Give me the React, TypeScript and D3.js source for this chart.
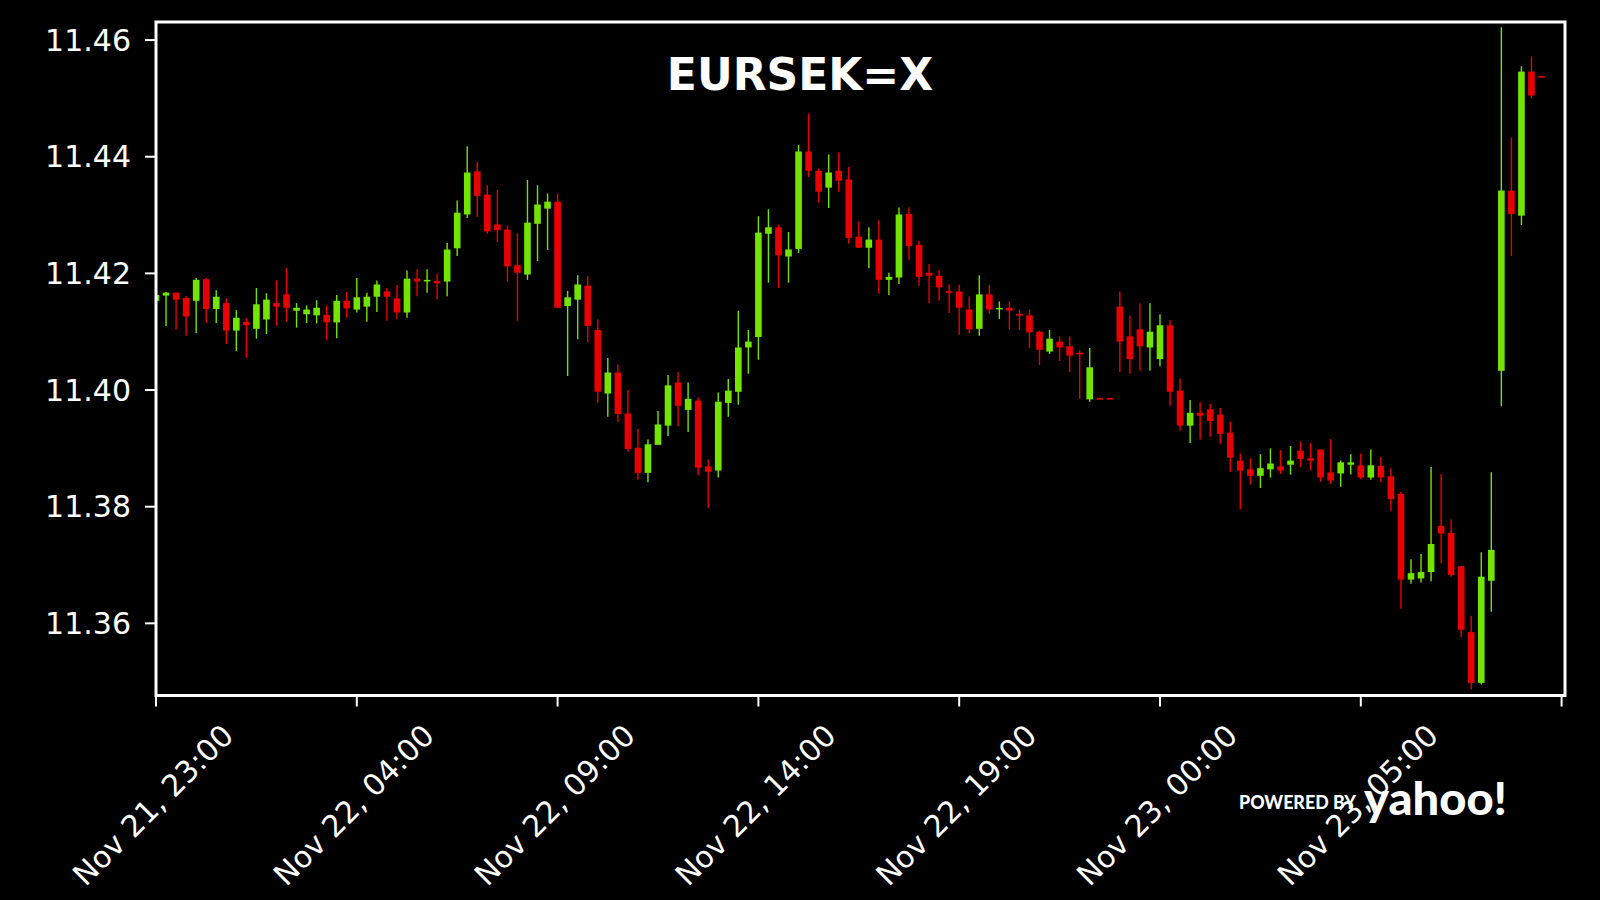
import React from "react";
import * as d3 from "d3";

// ---- data (15-minute candles, EURSEK=X) ----
const startTime = Date.UTC(2023, 10, 21, 23, 0); // Nov 21, 23:00
const intervalMin = 15;

const opens = [
  11.4153, 11.4162, 11.4167, 11.4158, 11.4153, 11.419, 11.4139, 11.4149, 11.4102, 11.4117,
  11.4105, 11.4121, 11.4149, 11.4164, 11.4136, 11.413, 11.4128, 11.4129, 11.4116, 11.4153,
  11.4138, 11.4143, 11.416, 11.4169, 11.4157, 11.4133, 11.4191, 11.4187, 11.4187, 11.4186,
  11.4243, 11.4301, 11.4375, 11.4335, 11.4284, 11.4275, 11.4214, 11.4198, 11.4285, 11.4311,
  11.4323, 11.4144, 11.4155, 11.4179, 11.4103, 11.3994, 11.403, 11.396, 11.3901, 11.3858,
  11.3906, 11.3939, 11.4013, 11.3966, 11.3982, 11.3869, 11.3862, 11.3978, 11.3997, 11.4073,
  11.4091, 11.4268, 11.4279, 11.4229, 11.4242, 11.4409, 11.4376, 11.4347, 11.4376, 11.4361,
  11.4263, 11.4244, 11.4258, 11.4189, 11.4193, 11.4302, 11.4249, 11.4201, 11.4196, 11.4169,
  11.4169, 11.4138, 11.4105, 11.4164, 11.4139, 11.4141, 11.413, 11.4128, 11.41, 11.4066,
  11.4083, 11.4075, 11.4064, 11.3984, 11.3985, 11.3985, 11.4143, 11.4092, 11.4104, 11.4073,
  11.4053, 11.4111, 11.3999, 11.3939, 11.3961, 11.3967, 11.3958, 11.3927, 11.3879, 11.3864,
  11.3853, 11.3864, 11.3869, 11.3872, 11.3896, 11.3883, 11.3898, 11.3859, 11.3857, 11.3872,
  11.3871, 11.385, 11.387, 11.3852, 11.3822, 11.3675, 11.3677, 11.3688, 11.3767, 11.3755,
  11.3698, 11.3585, 11.3498, 11.3673, 11.4033, 11.4342, 11.4299, 11.4546, 11.4537,
];
const highs = [
  11.4165, 11.4168, 11.4167, 11.4161, 11.4192, 11.4192, 11.4171, 11.4157, 11.4137, 11.4123,
  11.4175, 11.4166, 11.4188, 11.4209, 11.4149, 11.4145, 11.4154, 11.4145, 11.4163, 11.4168,
  11.4192, 11.4167, 11.4188, 11.4175, 11.418, 11.4205, 11.4207, 11.4207, 11.42, 11.4252,
  11.4325, 11.4418, 11.4392, 11.4351, 11.4343, 11.4282, 11.4269, 11.436, 11.4351, 11.4337,
  11.4336, 11.417, 11.4197, 11.4195, 11.4121, 11.4055, 11.4044, 11.4, 11.3933, 11.3915,
  11.3964, 11.4026, 11.4031, 11.4013, 11.3987, 11.3881, 11.3996, 11.4019, 11.4136, 11.4103,
  11.4298, 11.431, 11.4284, 11.4271, 11.442, 11.4474, 11.438, 11.4404, 11.4407, 11.4383,
  11.4289, 11.4279, 11.4291, 11.4201, 11.4313, 11.4313, 11.4256, 11.4216, 11.4206, 11.4181,
  11.4181, 11.4161, 11.4197, 11.418, 11.4152, 11.4152, 11.4138, 11.4138, 11.4102, 11.4103,
  11.4092, 11.4092, 11.4068, 11.4072, 11.3985, 11.3985, 11.4169, 11.4128, 11.4149, 11.4149,
  11.413, 11.412, 11.402, 11.3983, 11.3979, 11.3976, 11.3969, 11.3946, 11.3891, 11.3883,
  11.389, 11.39, 11.3897, 11.3904, 11.3912, 11.3909, 11.3898, 11.3916, 11.3879, 11.389,
  11.3891, 11.3898, 11.3885, 11.3866, 11.3825, 11.371, 11.3719, 11.3868, 11.3856, 11.3778,
  11.3698, 11.3613, 11.3722, 11.3859, 11.4622, 11.4433, 11.4555, 11.4572, 11.4537,
];
const lows = [
  11.415, 11.411, 11.4104, 11.4093, 11.4098, 11.4115, 11.4115, 11.4079, 11.4067, 11.4055,
  11.4088, 11.4096, 11.411, 11.4117, 11.4107, 11.4115, 11.4114, 11.4086, 11.4089, 11.4124,
  11.4133, 11.4117, 11.4134, 11.4119, 11.4122, 11.4124, 11.4161, 11.4167, 11.4156, 11.4161,
  11.423, 11.4295, 11.4297, 11.4268, 11.4254, 11.4186, 11.4119, 11.4189, 11.4221, 11.424,
  11.4141, 11.4024, 11.4087, 11.4082, 11.3978, 11.3954, 11.3945, 11.3894, 11.3846, 11.3842,
  11.3906, 11.3921, 11.3938, 11.3928, 11.3854, 11.3798, 11.385, 11.3954, 11.3975, 11.4028,
  11.4052, 11.4184, 11.4175, 11.4184, 11.4235, 11.4365, 11.4321, 11.4312, 11.434, 11.4251,
  11.4244, 11.4209, 11.4165, 11.4163, 11.4182, 11.4223, 11.4179, 11.4149, 11.4153, 11.4132,
  11.4095, 11.4098, 11.4093, 11.4131, 11.4122, 11.4104, 11.4103, 11.4072, 11.4043, 11.4062,
  11.405, 11.4031, 11.3985, 11.398, 11.3985, 11.3985, 11.4031, 11.4028, 11.4033, 11.4033,
  11.4041, 11.3973, 11.393, 11.3909, 11.3915, 11.392, 11.3908, 11.386, 11.3796, 11.3838,
  11.3832, 11.385, 11.3856, 11.3855, 11.3868, 11.3862, 11.3843, 11.3839, 11.3834, 11.3855,
  11.3847, 11.3846, 11.3842, 11.3793, 11.3625, 11.3668, 11.367, 11.3672, 11.3703, 11.368,
  11.3576, 11.3487, 11.3495, 11.362, 11.3972, 11.423, 11.4283, 11.45, 11.4537,
];
const closes = [
  11.4163, 11.4167, 11.4155, 11.4126, 11.4189, 11.4139, 11.416, 11.4102, 11.4124, 11.4111,
  11.4147, 11.4155, 11.4143, 11.4141, 11.4141, 11.4138, 11.4141, 11.4116, 11.4153, 11.414,
  11.4159, 11.416, 11.4181, 11.416, 11.4133, 11.4191, 11.4186, 11.4188, 11.4183, 11.4241,
  11.4304, 11.4373, 11.4333, 11.4272, 11.4274, 11.4212, 11.4201, 11.4287, 11.4318, 11.4323,
  11.4141, 11.4159, 11.4181, 11.411, 11.3997, 11.403, 11.3959, 11.3899, 11.3858, 11.3907,
  11.3941, 11.4008, 11.3973, 11.3985, 11.3867, 11.386, 11.398, 11.3999, 11.4073, 11.4083,
  11.427, 11.4279, 11.4231, 11.4241, 11.4409, 11.4376, 11.434, 11.4373, 11.4359, 11.4261,
  11.4244, 11.4258, 11.4189, 11.4194, 11.4301, 11.4247, 11.4194, 11.4196, 11.4176, 11.4167,
  11.4141, 11.4104, 11.4164, 11.4138, 11.414, 11.4136, 11.4128, 11.4099, 11.4069, 11.4088,
  11.4073, 11.4059, 11.4061, 11.4039, 11.3985, 11.3985, 11.4083, 11.4053, 11.4075, 11.41,
  11.4111, 11.3997, 11.3939, 11.3961, 11.3956, 11.3947, 11.3925, 11.3884, 11.3862, 11.3853,
  11.3866, 11.3874, 11.3862, 11.3879, 11.3882, 11.3879, 11.385, 11.3845, 11.3876, 11.3876,
  11.385, 11.3871, 11.385, 11.3813, 11.3675, 11.3686, 11.3688, 11.3736, 11.3754, 11.3683,
  11.3589, 11.3498, 11.368, 11.3726, 11.4342, 11.4302, 11.4546, 11.4505, 11.4537,
];

const yTicks = [11.36, 11.38, 11.4, 11.42, 11.44, 11.46];
const xTickLabels = [
  "Nov 21, 23:00",
  "Nov 22, 04:00",
  "Nov 22, 09:00",
  "Nov 22, 14:00",
  "Nov 22, 19:00",
  "Nov 23, 00:00",
  "Nov 23, 05:00",
  "",
];
const title = "EURSEK=X";

// ---- layout ----
const W = 1600;
const H = 900;
const plot = { left: 156, right: 1565, top: 22, bottom: 695.5 };
const UP = "#72e400";
const DOWN = "#e80000";
const FONT = "'DejaVu Sans', sans-serif";

export default function App() {
  const MIN = 60 * 1000;
  const times = opens.map((_, i) => new Date(startTime + i * intervalMin * MIN));
  const endTime = new Date(startTime + 140.34 * intervalMin * MIN);

  const x = d3.scaleUtc().domain([new Date(startTime), endTime]).range([plot.left, plot.right]);
  const y = d3.scaleLinear().domain([11.34763, 11.4631]).range([plot.bottom, plot.top]);

  const bodyW = x(new Date(startTime + 0.66 * intervalMin * MIN)) - x(new Date(startTime));
  const tickDates = xTickLabels.map((_, j) => new Date(startTime + j * 5 * 60 * MIN));
  const fmt = d3.format(".2f");

  return (
    <svg
      width={W}
      height={H}
      style={{ position: "fixed", left: 0, top: 0, display: "block", background: "#000" }}
    >
      <rect x={0} y={0} width={W} height={H} fill="#000" />
      <defs>
        <clipPath id="plotclip">
          <rect x={plot.left} y={plot.top} width={plot.right - plot.left} height={plot.bottom - plot.top} />
        </clipPath>
      </defs>

      <g clipPath="url(#plotclip)">
        {times.map((t, i) => {
          const o = opens[i];
          const c = closes[i];
          const up = c > o;
          const col = up ? UP : DOWN;
          const cx = x(t);
          const yTop = y(Math.max(o, c));
          const yBot = y(Math.min(o, c));
          const h = Math.max(yBot - yTop, 1.6);
          return (
            <g key={i}>
              <line x1={cx} x2={cx} y1={y(highs[i])} y2={y(lows[i])} stroke={col} strokeWidth={1.4} />
              <rect x={cx - bodyW / 2} y={yTop - (h - (yBot - yTop)) / 2} width={bodyW} height={h} fill={col} />
            </g>
          );
        })}
      </g>

      {/* frame */}
      <rect
        x={plot.left}
        y={plot.top}
        width={plot.right - plot.left}
        height={plot.bottom - plot.top}
        fill="none"
        stroke="#fff"
        strokeWidth={3}
      />

      {/* y axis */}
      {yTicks.map((v) => (
        <g key={v}>
          <line x1={plot.left - 11} x2={plot.left} y1={y(v)} y2={y(v)} stroke="#fff" strokeWidth={2} />
          <text
            x={131}
            y={y(v)}
            fill="#fff"
            fontFamily={FONT}
            fontSize={30}
            textAnchor="end"
            dominantBaseline="central"
          >
            {fmt(v)}
          </text>
        </g>
      ))}

      {/* x axis */}
      {tickDates.map((d, j) => {
        const tx = x(d);
        const cy = 805;
        return (
          <g key={j}>
            <line x1={tx} x2={tx} y1={plot.bottom} y2={plot.bottom + 11} stroke="#fff" strokeWidth={2} />
            {xTickLabels[j] && (
              <text
                x={tx - 3}
                y={cy}
                fill="#fff"
                fontFamily={FONT}
                fontSize={30}
                textAnchor="middle"
                dominantBaseline="central"
                transform={`rotate(-45, ${tx - 3}, ${cy})`}
              >
                {xTickLabels[j]}
              </text>
            )}
          </g>
        );
      })}

      {/* title */}
      <text
        x={800}
        y={90}
        fill="#fff"
        fontFamily={FONT}
        fontWeight="bold"
        fontSize={44}
        textAnchor="middle"
      >
        {title}
      </text>

      {/* powered by yahoo */}
      <text
        x={1239}
        y={809}
        fill="#fff"
        fontFamily="Lato, 'Open Sans', sans-serif"
        fontWeight={900}
        fontSize={19}
        textLength={117}
        lengthAdjust="spacingAndGlyphs"
      >
        POWERED BY
      </text>
      <text
        x={1364}
        y={815}
        fill="#fff"
        fontFamily="Lato, 'Open Sans', sans-serif"
        fontWeight={900}
        fontSize={46}
        textLength={143}
        lengthAdjust="spacingAndGlyphs"
      >
        yahoo!
      </text>
    </svg>
  );
}
